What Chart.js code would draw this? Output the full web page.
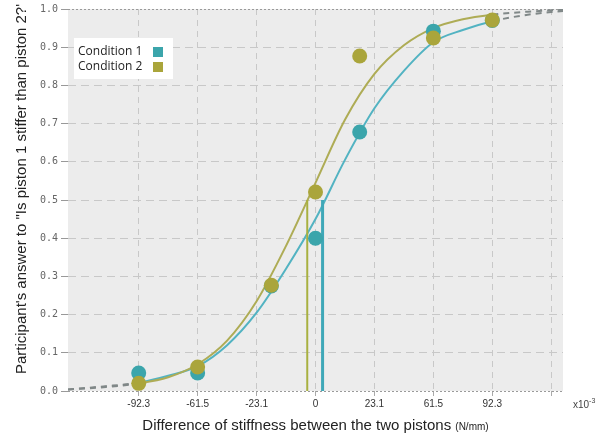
<!DOCTYPE html>
<html>
<head>
<meta charset="utf-8">
<script src="https://cdn.jsdelivr.net/npm/chart.js@4.4.0/dist/chart.umd.min.js"></script>
<style>
  html, body { margin: 0; padding: 0; background: #fff; }
  #wrap { width: 600px; height: 437px; }
</style>
</head>
<body>
<div id="wrap"><canvas id="chart" width="600" height="437"></canvas></div>
<script>
// Ejes
const xTickPos = [-3, -2, -1, 0, 1, 2, 3, 4];
const xTickLabels = ['-92.3', '-61.5', '-23.1', '0', '23.1', '61.5', '92.3', ''];
const yTickValues = [0, 0.1, 0.2, 0.3, 0.4, 0.5, 0.6, 0.7, 0.8, 0.9, 1.0];

// Series
const seriesNames = ['Condition 1', 'Condition 2'];
const pointColors = ['#3ba5ab', '#aaa53b'];
const curveColors = ['#52b3c2', '#aeac55'];

// Respuestas medidas
const measX = [-3, -2, -0.75, 0, 0.75, 2, 3];
const cond1Y = [0.047, 0.047, 0.275, 0.40, 0.678, 0.942, 0.97];
const cond2Y = [0.02, 0.063, 0.277, 0.521, 0.877, 0.924, 0.971];

// Curvas ajustadas
const fitX  = [-4.2, -3.6, -3, -2.5, -2, -1.5, -1, -0.5, 0, 0.5, 1, 1.5, 2, 2.5, 3, 3.6, 4.2];
const fit1Y = [0.004, 0.012, 0.022, 0.04, 0.065, 0.12, 0.205, 0.32, 0.45, 0.605, 0.74, 0.838, 0.913, 0.945, 0.968, 0.985, 0.995];
const fit2Y = [0.004, 0.01, 0.02, 0.036, 0.07, 0.132, 0.235, 0.38, 0.545, 0.71, 0.83, 0.905, 0.95, 0.973, 0.985, 0.993, 0.998];

// Umbrales (50%)
const pse1 = 0.12;
const pse2 = -0.14;

const toPoints = (xs, ys) => xs.map((x, i) => ({ x: x, y: ys[i] }));

function curveDataset(ys, color) {
    return {
        type: 'line',
        data: toPoints(fitX, ys),
        borderColor: color,
        borderWidth: 2,
        pointRadius: 0,
        cubicInterpolationMode: 'monotone',
        segment: {
            borderDash: ctx => (fitX[ctx.p0DataIndex] < -3 || fitX[ctx.p1DataIndex] > 3) ? [6, 5] : undefined,
            borderColor: ctx => (fitX[ctx.p0DataIndex] < -3 || fitX[ctx.p1DataIndex] > 3) ? '#808888' : undefined
        }
    };
}

function pseDataset(x, color, width) {
    return {
        type: 'line',
        data: [{ x: x, y: 0 }, { x: x, y: 0.5 }],
        borderColor: color,
        borderWidth: width,
        pointRadius: 0
    };
}

// Fondo del área de trazado
const plotBackground = {
    id: 'plotBackground',
    beforeDraw(chart) {
        const { ctx, chartArea: a } = chart;
        ctx.save();
        ctx.fillStyle = '#ececec';
        ctx.fillRect(a.left, a.top, a.right - a.left, a.bottom - a.top);
        ctx.restore();
    }
};

// Leyenda y títulos
const annotations = {
    id: 'annotations',
    afterDraw(chart) {
        const { ctx, chartArea: a } = chart;
        ctx.save();

        // leyenda
        const lx = a.left + 6, ly = a.top + 29;
        ctx.fillStyle = '#ffffff';
        ctx.fillRect(lx, ly, 99, 41);
        ctx.font = '12px "Open Sans"';
        ctx.textBaseline = 'middle';
        ctx.textAlign = 'left';
        seriesNames.forEach((name, i) => {
            const y = ly + 14 + i * 15;
            ctx.fillStyle = '#222';
            ctx.fillText(name, lx + 4, y);
            ctx.fillStyle = pointColors[i];
            ctx.fillRect(lx + 79, y - 5, 10, 10);
        });

        // título eje Y
        ctx.save();
        ctx.translate(22, 189);
        ctx.rotate(-Math.PI / 2);
        ctx.textAlign = 'center';
        ctx.textBaseline = 'middle';
        ctx.font = '15px "Liberation Sans"';
        ctx.fillStyle = '#222';
        ctx.fillText('Participant\'s answer to "Is piston 1 stiffer than piston 2?\'', 0, 0);
        ctx.restore();

        // título eje X
        const main = 'Difference of stiffness between the two pistons ';
        const unit = '(N/mm)';
        ctx.font = '15px "Liberation Sans"';
        const w1 = ctx.measureText(main).width;
        ctx.font = '10px "Liberation Sans"';
        const w2 = ctx.measureText(unit).width;
        const x0 = (a.left + a.right) / 2 - (w1 + w2) / 2;
        ctx.textAlign = 'left';
        ctx.textBaseline = 'alphabetic';
        ctx.fillStyle = '#222';
        ctx.font = '15px "Liberation Sans"';
        ctx.fillText(main, x0, 430);
        ctx.font = '10px "Liberation Sans"';
        ctx.fillText(unit, x0 + w1, 430);

        // factor de escala
        ctx.fillStyle = '#444';
        ctx.font = '10px "Liberation Sans"';
        ctx.fillText('x10', a.right + 10, 408);
        const wx = ctx.measureText('x10').width;
        ctx.font = '7px "Liberation Sans"';
        ctx.fillText('-3', a.right + 10 + wx, 403);

        ctx.restore();
    }
};

const gridDash = ctx => (ctx.tick && (ctx.tick.value === 0 || ctx.tick.value === 1)) ? [2, 2] : [8, 5];
const gridColor = ctx => (ctx.tick && (ctx.tick.value === 0 || ctx.tick.value === 1)) ? '#9a9a9a' : '#c8c8c8';

new Chart(document.getElementById('chart'), {
    type: 'scatter',
    data: {
        datasets: [
            { data: toPoints(measX, cond2Y), backgroundColor: pointColors[1], borderWidth: 0, pointRadius: 7.5 },
            { data: toPoints(measX, cond1Y), backgroundColor: pointColors[0], borderWidth: 0, pointRadius: 7.5 },
            pseDataset(pse1, '#3fa8b8', 3),
            pseDataset(pse2, '#a8b040', 2),
            curveDataset(fit2Y, curveColors[1]),
            curveDataset(fit1Y, curveColors[0])
        ]
    },
    options: {
        responsive: false,
        animation: false,
        layout: { padding: { top: 9, right: 37, left: 0, bottom: 0 } },
        plugins: { legend: { display: false }, tooltip: { enabled: false } },
        scales: {
            x: {
                type: 'linear',
                min: -4.2,
                max: 4.2,
                afterBuildTicks: axis => { axis.ticks = xTickPos.map(v => ({ value: v })); },
                afterFit: axis => { axis.height = 46; },
                ticks: {
                    callback: v => xTickLabels[xTickPos.indexOf(v)],
                    font: { family: 'Liberation Sans', size: 10 },
                    color: '#333',
                    padding: 2,
                    maxRotation: 0
                },
                grid: { color: '#c8c8c8', tickColor: '#aaa', tickLength: 5 },
                border: { display: false, dash: [6, 5] }
            },
            y: {
                min: 0,
                max: 1,
                afterBuildTicks: axis => { axis.ticks = yTickValues.map(v => ({ value: v })); },
                afterFit: axis => { axis.width = 68; },
                ticks: {
                    callback: v => v.toFixed(1),
                    font: { family: 'DejaVu Sans Mono', size: 10 },
                    color: '#666',
                    padding: 3
                },
                grid: { color: gridColor, tickColor: '#999', tickLength: 7 },
                border: { display: false, dash: gridDash }
            }
        }
    },
    plugins: [plotBackground, annotations]
});
</script>
</body>
</html>
